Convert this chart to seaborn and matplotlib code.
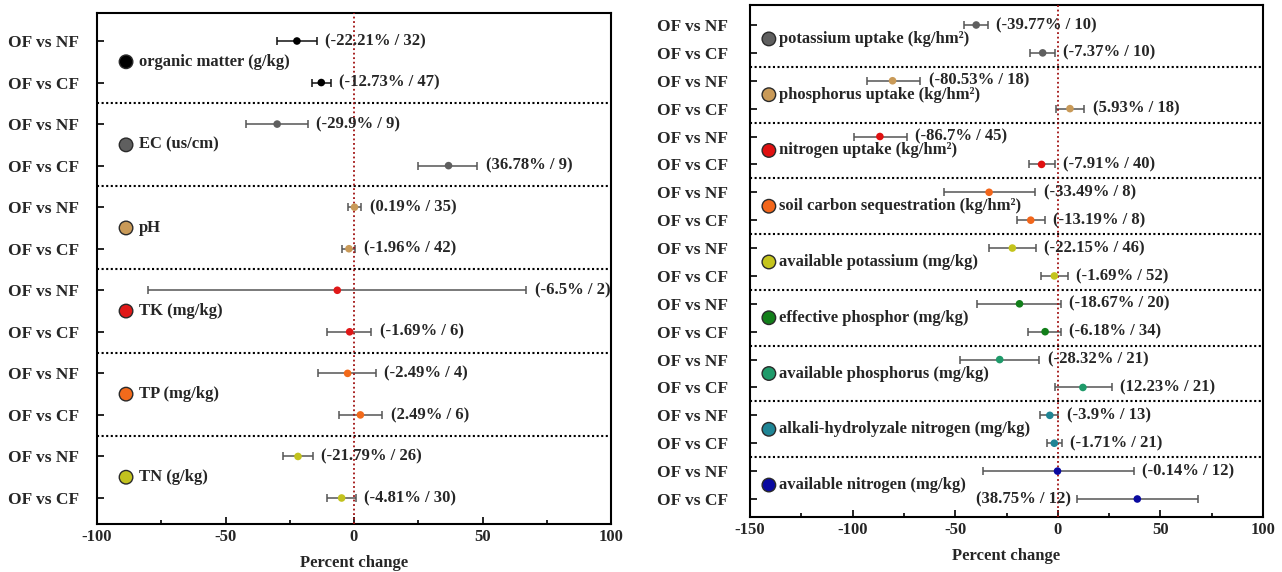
import numpy as np
import pandas as pd
import matplotlib
matplotlib.use("Agg")
import matplotlib.pyplot as plt
import seaborn as sns

sns.set_style("white")
plt.rcParams['font.family'] = ['Liberation Serif', 'DejaVu Serif']
plt.rcParams['font.weight'] = 'bold'
plt.rcParams['axes.labelweight'] = 'bold'

comparisons = ["OF vs NF", "OF vs CF"]

# ---------------- left panel data ----------------
left_groups = ["organic matter (g/kg)", "EC (us/cm)", "pH", "TK (mg/kg)", "TP (mg/kg)", "TN (g/kg)"]
left_colors = ["#000000", "#5f5f5f", "#c99a58", "#e01818", "#f26a1b", "#c2c21e"]
left_mean = [-22.21, -12.73, -29.9, 36.78, 0.19, -1.96, -6.5, -1.69, -2.49, 2.49, -21.79, -4.81]
left_lo = [-30.0, -16.5, -42.0, 25.0, -2.5, -4.5, -80.0, -10.5, -14.0, -6.0, -27.5, -10.5]
left_hi = [-14.5, -9.0, -18.0, 48.0, 2.8, 0.5, 67.0, 6.8, 8.5, 11.0, -16.0, 0.8]
left_n = [32, 47, 9, 9, 35, 42, 2, 6, 4, 6, 26, 30]
left_pct = ["-22.21%", "-12.73%", "-29.9%", "36.78%", "0.19%", "-1.96%", "-6.5%", "-1.69%",
            "-2.49%", "2.49%", "-21.79%", "-4.81%"]

# ---------------- right panel data ----------------
right_groups = ["potassium uptake (kg/hm²)", "phosphorus uptake (kg/hm²)", "nitrogen uptake (kg/hm²)",
                "soil carbon sequestration (kg/hm²)", "available potassium (mg/kg)",
                "effective phosphor (mg/kg)", "available phosphorus (mg/kg)",
                "alkali-hydrolyzale nitrogen (mg/kg)", "available nitrogen (mg/kg)"]
right_colors = ["#5f5f5f", "#c99a58", "#e01010", "#f2661b", "#c4c41c", "#127f1a", "#1f9a6a",
                "#1f8595", "#0a0aa0"]
right_mean = [-39.77, -7.37, -80.53, 5.93, -86.7, -7.91, -33.49, -13.19, -22.15, -1.69,
              -18.67, -6.18, -28.32, 12.23, -3.9, -1.71, -0.14, 38.75]
right_lo = [-45.5, -13.5, -93.0, -0.8, -99.5, -14.0, -55.7, -20.0, -33.3, -8.0,
            -39.5, -14.4, -47.5, -1.4, -8.5, -5.4, -36.5, 9.2]
right_hi = [-34.0, -1.5, -67.0, 13.0, -73.5, -1.4, -11.0, -6.4, -10.6, 5.0,
            1.6, 1.6, -9.0, 26.4, 0.3, 2.0, 37.0, 68.3]
right_n = [10, 10, 18, 18, 45, 40, 8, 8, 46, 52, 20, 34, 21, 21, 13, 21, 12, 12]
right_pct = ["-39.77%", "-7.37%", "-80.53%", "5.93%", "-86.7%", "-7.91%", "-33.49%", "-13.19%",
             "-22.15%", "-1.69%", "-18.67%", "-6.18%", "-28.32%", "12.23%", "-3.9%", "-1.71%",
             "-0.14%", "38.75%"]


def make_df(groups, colors, mean, lo, hi, n, pct):
    rows = []
    for i, g in enumerate(groups):
        for j, c in enumerate(comparisons):
            k = 2 * i + j
            rows.append(dict(group=g, comp=c, pos=k, mean=mean[k], lo=lo[k], hi=hi[k],
                             n=n[k], pct=pct[k], color=colors[i]))
    return pd.DataFrame(rows)


def draw_panel(ax, df, groups, colors, xlim, major, minor, label_x, ylim, ebar_colors,
               label_off, ypad, left_label_rows=()):
    # error bars
    for _, r in df.iterrows():
        ec = ebar_colors.get(r.group, "#555555")
        ax.errorbar(r["mean"], r["pos"], xerr=[[r["mean"] - r["lo"]], [r["hi"] - r["mean"]]],
                    fmt="none", ecolor=ec, elinewidth=1.1, capsize=3, capthick=1.1, zorder=2)
    sns.scatterplot(data=df, x="mean", y="pos", hue="group", palette=dict(zip(groups, colors)),
                    s=30, edgecolor="none", legend=False, ax=ax, zorder=4)
    # value annotations
    for _, r in df.iterrows():
        txt = f"({r['pct']} / {r['n']})"
        if r["pos"] in left_label_rows:
            ax.annotate(txt, xy=(r["lo"], r["pos"]), xytext=(-4, 0), textcoords="offset points",
                        ha="right", va="center", fontsize=12, fontweight="bold", zorder=5)
        else:
            ax.annotate(txt, xy=(r["hi"], r["pos"]), xytext=(6, 0), textcoords="offset points",
                        ha="left", va="center", fontsize=12, fontweight="bold", zorder=5)
    # group labels with markers
    gdf = pd.DataFrame(dict(group=groups, x=[label_x] * len(groups),
                            y=[2 * i + 0.5 for i in range(len(groups))]))
    sns.scatterplot(data=gdf, x="x", y="y", hue="group", palette=dict(zip(groups, colors)),
                    s=95, edgecolor="#2a2a2a", linewidth=1.0, legend=False, ax=ax, zorder=4)
    for _, r in gdf.iterrows():
        ax.annotate(r["group"], xy=(r["x"], r["y"]), xytext=(label_off, 0), textcoords="offset points",
                    ha="left", va="center", fontsize=12, fontweight="bold", zorder=5)
    # separators
    for i in range(1, len(groups)):
        ax.axhline(2 * i - 0.5, color="black", linestyle=(0, (1, 1.2)), linewidth=1.5, zorder=1)
    ax.axvline(0, color="#a01010", linestyle=(0, (1, 1.5)), linewidth=1.3, zorder=3)

    ax.set_xlim(*xlim)
    ax.set_ylim(*ylim)
    ax.set_xticks(major)
    ax.set_xticks(minor, minor=True)
    ax.set_xticklabels([str(v) for v in major], fontsize=12, fontweight="bold")
    ax.set_yticks(df["pos"].tolist())
    ax.set_yticklabels(df["comp"].tolist(), fontsize=12.5, fontweight="bold")
    ax.tick_params(axis="both", which="both", direction="in", length=5, width=1.2,
                   bottom=True, left=True, color="black")
    ax.tick_params(axis="x", which="minor", length=3)
    ax.tick_params(axis="y", pad=ypad)
    ax.set_xlabel("Percent change", fontsize=12, fontweight="bold", labelpad=7)
    ax.set_ylabel("")
    for sp in ax.spines.values():
        sp.set_visible(True)
        sp.set_color("black")
        sp.set_linewidth(1.5)


fig = plt.figure(figsize=(12.82, 5.72), dpi=100)
ax1 = fig.add_axes([97 / 1282, 1 - 524 / 572, 514 / 1282, 511 / 572])
ax2 = fig.add_axes([750 / 1282, 1 - 517 / 572, 513 / 1282, 512 / 572])

dfl = make_df(left_groups, left_colors, left_mean, left_lo, left_hi, left_n, left_pct)
dfr = make_df(right_groups, right_colors, right_mean, right_lo, right_hi, right_n, right_pct)

draw_panel(ax1, dfl, left_groups, left_colors, (-100, 100), [-100, -50, 0, 50, 100],
           [-75, -25, 25, 75], -88.7, (11.626, -0.674),
           {"organic matter (g/kg)": "#111111"}, 9, 13)
draw_panel(ax2, dfr, right_groups, right_colors, (-150, 100), [-150, -100, -50, 0, 50, 100],
           [-125, -75, -25, 25, 75], -140.8, (17.646, -0.717), {}, 7, 16,
           left_label_rows=(17,))

fig.savefig("out.png", dpi=100)
